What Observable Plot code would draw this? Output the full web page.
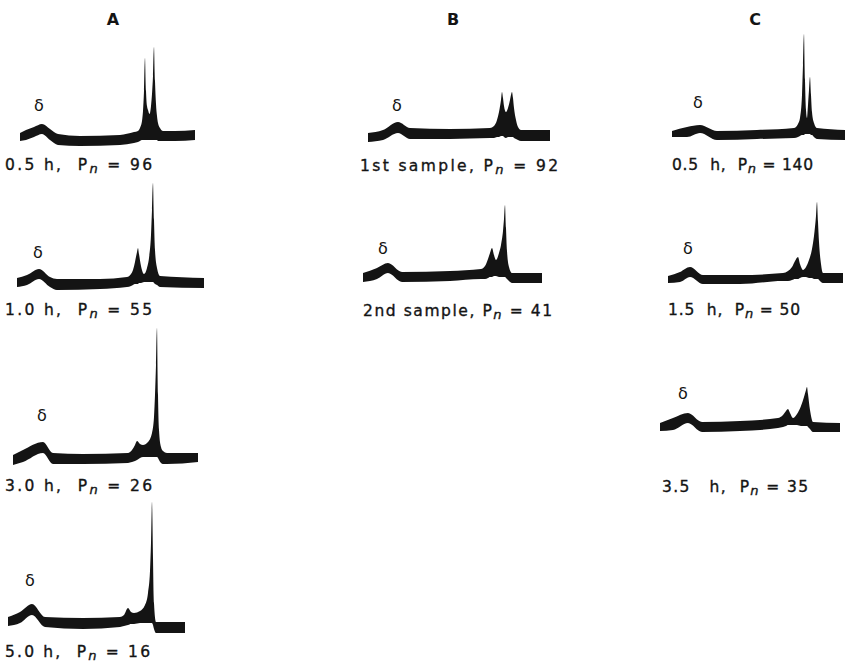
<!DOCTYPE html>
<html><head><meta charset="utf-8">
<script src="https://cdn.jsdelivr.net/npm/d3@7"></script>
<script src="https://cdn.jsdelivr.net/npm/@observablehq/plot@0.6"></script>
<style>
body{margin:0;background:#fff}
#chart{position:relative;width:846px;height:662px;overflow:hidden;background:#fff}
#chart svg{position:absolute;overflow:visible;background:none}
</style></head><body><div id="chart"></div>
<script>
// ---------- data ----------
const columnTitles = ["A", "B", "C"];
const sampleNames = ["0.5 h,  ", "1.0 h,  ", "3.0 h,  ", "5.0 h,  ", "1st sample, ", "2nd sample, ", "0.5  h,  ", "1.5  h,  ", "3.5   h,  "];
const pnValues = [96, 55, 26, 16, 92, 41, 140, 50, 35];
const peakLabel = "δ";

// shift = position along the spectrum, upper / lower = edges of the recorded trace (intensity)
const a1Shift = [0,6,14,22,30,38,60,100,114,118,120,122,123,124,125,126,127,128,129.5,131,132,133,134,135,136,137,138,140,143,155,175];
const a1Upper = [13,16,19,22,17,12,10,11,14,15,18,25,35,55,88,55,40,36,32,40,52,70,99,65,42,30,23,18,15,15,16];
const a1Lower = [5,6,9,12,6,1,0,1,3,4,5,6,6,6,6,6,6,6,6,6,6,6,6,6,6,6,5,5,5,5,6];

const a2Shift = [0,10,22,33,40,83,110,114,116,118,120,121,122,124,127,130,132,134,135,136,137,138,140,143,187];
const a2Upper = [12,15,21,13,11,11,13,16,20,28,38,42,36,24,16,22,32,55,80,107,70,40,22,14,12];
const a2Lower = [3,5,11,3,0,1,3,4,5,6,6,6,7,7,8,8,8,8,8,8,7,6,5,3,2];

const a3Shift = [0,10,30,40,70,115,119,122,124,127,130,135,139,141,142,143,144,145,146,148,150,154,185];
const a3Upper = [10,15,23,12,11,12,15,20,24,21,20,23,32,48,70,100,137,70,35,18,14,12,12];
const a3Lower = [0,3,12,1,1,2,3,4,5,7,8,8,8,8,8,8,8,7,5,2,1,1,3];

const a4Shift = [0,12,24,37,75,112,116,120,123,126,132,137,140,142,143,144,145,146,148,177];
const a4Upper = [16,21,29,16,15,16,18,25,21,20,22,28,40,62,90,131,75,30,11,11];
const a4Lower = [7,10,18,6,4,6,7,8,9,9,10,10,10,10,10,10,8,4,0,0];

const b1Shift = [0,15,30,42,82,122,126,129,131,133,134,135,136,138,140,142,143,144,145,146,148,150,153,182];
const b1Upper = [9,12,20,14,13,14,16,22,30,42,50,44,36,30,34,42,47,50,44,34,22,15,12,12];
const b1Lower = [0,2,9,3,3,4,4,5,5,6,6,6,5,4,5,5,5,5,5,4,3,2,1,1];

const b2Shift = [0,14,25,39,87,118,122,125,127,129,131,133,136,138,140,141,142,143,144,146,149,179];
const b2Upper = [10,15,20,11,12,14,17,24,30,35,28,23,30,38,52,64,78,55,32,16,10,10];
const b2Lower = [1,4,10,1,2,4,4,5,6,6,7,7,6,6,6,6,6,5,4,2,0,0];

const c1Shift = [0,15,28,45,85,122,126,128,130,131,132,133,134,135,136,137,138,139,140,142,145,173];
const c1Upper = [9,13,15,9,10,12,16,22,45,75,106,60,30,22,35,50,63,45,28,17,12,10];
const c1Lower = [3,3,7,0,1,2,3,4,5,5,5,6,6,6,6,6,6,5,5,3,1,0];

const c2Shift = [0,12,22,35,72,115,120,124,127,130,132,135,138,141,144,146,148,149,150,151,153,155,175];
const c2Upper = [8,12,17,9,9,11,13,17,23,27,20,14,17,24,35,48,68,82,62,42,20,11,11];
const c2Lower = [1,2,7,0,0,3,3,4,5,5,6,7,7,6,6,5,5,5,5,4,2,1,1];

const c3Shift = [0,13,28,42,80,118,123,126,128,130,133,137,141,144,146,147,148,150,153,180];
const c3Upper = [9,14,19,10,11,14,17,21,23,19,14,18,26,35,42,45,38,22,10,9];
const c3Lower = [1,2,9,0,1,4,5,6,7,7,7,7,6,6,6,6,5,3,0,0];

// ---------- layout ----------
const traces = [
  [a1Shift, a1Upper, a1Lower], [a2Shift, a2Upper, a2Lower], [a3Shift, a3Upper, a3Lower], [a4Shift, a4Upper, a4Lower],
  [b1Shift, b1Upper, b1Lower], [b2Shift, b2Upper, b2Lower],
  [c1Shift, c1Upper, c1Lower], [c2Shift, c2Upper, c2Lower], [c3Shift, c3Upper, c3Lower]
];
const layout = [
  {left: 20,  base: 146, lx: 5,   ly: 170, lw: 147, dx: 39,  dy: 105},
  {left: 17,  base: 290, lx: 5,   ly: 315, lw: 147, dx: 38,  dy: 252},
  {left: 13,  base: 465, lx: 5,   ly: 491, lw: 147, dx: 42,  dy: 415},
  {left: 8,   base: 633, lx: 5,   ly: 657, lw: 145, dx: 30,  dy: 580},
  {left: 368, base: 142, lx: 360, ly: 171, lw: 198, dx: 397, dy: 105},
  {left: 363, base: 283, lx: 363, ly: 316, lw: 189, dx: 383, dy: 248},
  {left: 672, base: 140, lx: 672, ly: 170, lw: 141, dx: 698, dy: 102},
  {left: 668, base: 284, lx: 668, ly: 315, lw: 132, dx: 688, dy: 248},
  {left: 660, base: 432, lx: 662, ly: 492, lw: 146, dx: 683, dy: 393}
];
const titlePos = [113, 453, 755];
const ink = "#141414";
const font = "'DejaVu Sans', Roboto, sans-serif";

const chart = document.getElementById("chart");

traces.forEach(([shift, upper, lower], i) => {
  const L = layout[i];
  const data = shift.map((s, j) => ({shift: s, upper: upper[j], lower: lower[j]}));
  const W = d3.max(shift) + 2;
  const H = d3.max(upper) + 4;
  const svg = Plot.plot({
    width: W, height: H,
    marginTop: 0, marginRight: 0, marginBottom: 0, marginLeft: 0,
    x: {domain: [0, W], axis: null},
    y: {domain: [0, H], axis: null},
    marks: [
      Plot.areaY(data, {x: "shift", y1: "lower", y2: "upper", fill: ink, curve: "monotone-x"})
    ]
  });
  svg.style.left = L.left + "px";
  svg.style.top = (L.base - H) + "px";
  chart.appendChild(svg);
});

// ---------- text overlay ----------
const overlay = d3.select(chart).append("svg")
  .attr("width", 846).attr("height", 662)
  .style("left", "0px").style("top", "0px")
  .attr("font-family", font).attr("fill", ink);

overlay.selectAll("text.title").data(columnTitles).join("text")
  .attr("class", "title")
  .attr("x", (d, i) => titlePos[i]).attr("y", 25)
  .attr("text-anchor", "middle").attr("font-size", 16).attr("font-weight", "bold")
  .text(d => d);

overlay.selectAll("text.delta").data(layout).join("text")
  .attr("class", "delta")
  .attr("x", d => d.dx).attr("y", d => d.dy + 6)
  .attr("text-anchor", "middle").attr("font-size", 16)
  .text(peakLabel);

layout.forEach((L, i) => {
  const t = overlay.append("text")
    .attr("x", L.lx).attr("y", L.ly)
    .attr("font-size", 15.5)
    .attr("stroke", ink).attr("stroke-width", 0.35)
    .attr("xml:space", "preserve").style("white-space", "pre")
    .attr("textLength", L.lw).attr("lengthAdjust", "spacing");
  t.append("tspan").text(sampleNames[i] + "P");
  t.append("tspan").attr("font-style", "italic").attr("font-size", 13).attr("dy", 3).text("n");
  t.append("tspan").attr("dy", -3).text(" = " + pnValues[i]);
});
</script>
</body></html>
